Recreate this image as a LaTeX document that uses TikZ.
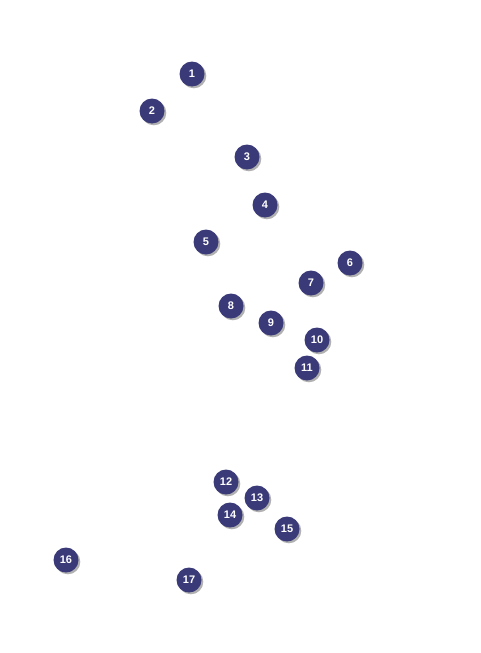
\documentclass[tikz,border=0pt]{standalone}
\usepackage{fontspec}
\setsansfont{Liberation Sans}
\usetikzlibrary{shadows}
\definecolor{cnavy}{HTML}{3A3A78}
\definecolor{cshade}{HTML}{A8A8A8}
\tikzset{
  every picture/.style={font=\sffamily, line width=0.6pt},
  marker/.style={circle, fill=cnavy, text=white, minimum size=25pt, inner sep=0pt,
                 font=\sffamily\bfseries\fontsize{11}{12}\selectfont,
                 drop shadow={shadow xshift=1.8pt, shadow yshift=-1.8pt, fill=cshade, opacity=0.9}},
}

\begin{document}
\begin{tikzpicture}[x=1pt, y=-1pt]
  \useasboundingbox (0,0) rectangle (480,653);
  % numbered markers
  \foreach \n/\x/\y in {1/192/74, 2/152/111, 3/247/157, 4/265/205, 5/206/242,
                        6/350/263, 7/311/283, 8/231/306, 9/271/323, 10/317/340,
                        11/307/368, 12/226/482, 13/257/498, 14/230/515, 15/287/529,
                        16/66/560, 17/189/580} {
    \node[marker] (m\n) at (\x,\y) {\n};
  }
\end{tikzpicture}
\end{document}
